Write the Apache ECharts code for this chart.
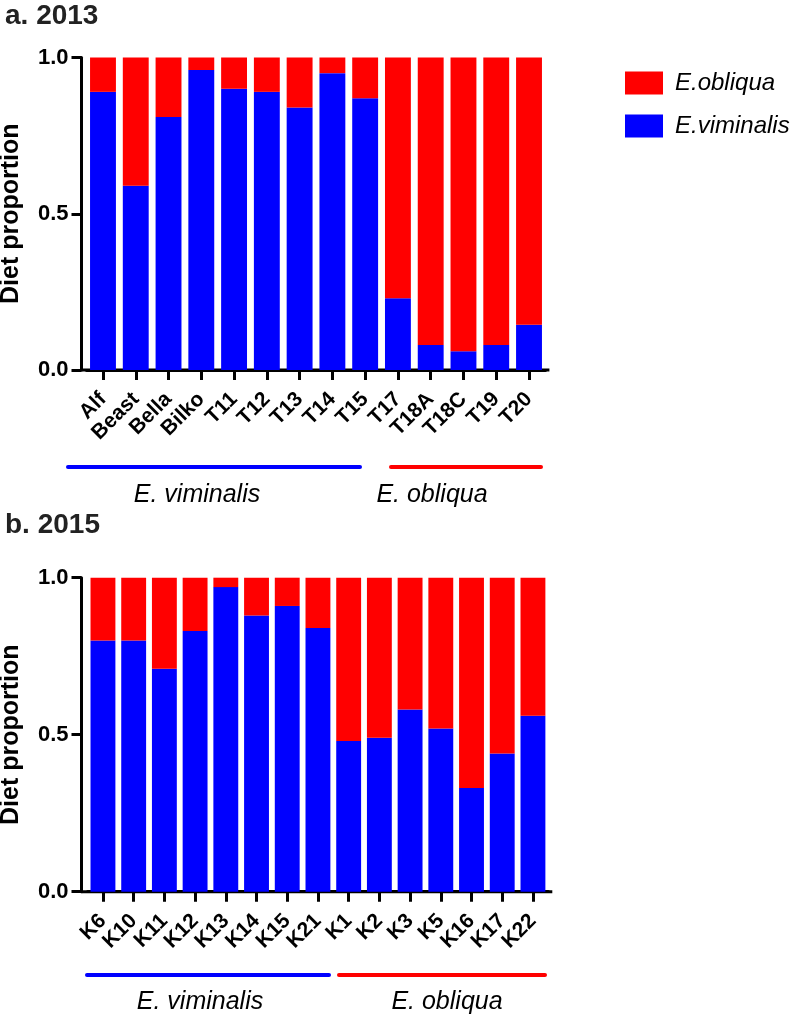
<!DOCTYPE html>
<html>
<head>
<meta charset="utf-8">
<script src="https://cdn.jsdelivr.net/npm/echarts@6/dist/echarts.min.js"></script>
<style>
html,body{margin:0;padding:0;background:#fff;}
#chart{width:800px;height:1018px;}
</style>
</head>
<body>
<div id="chart"></div>
<script>
// ---- data ----
const cats2013 = ['Alf','Beast','Bella','Bilko','T11','T12','T13','T14','T15','T17','T18A','T18C','T19','T20'];
const viminalis2013 = [0.89,0.59,0.81,0.96,0.90,0.89,0.84,0.95,0.87,0.23,0.08,0.06,0.08,0.145];
const obliqua2013   = [0.11,0.41,0.19,0.04,0.10,0.11,0.16,0.05,0.13,0.77,0.92,0.94,0.92,0.855];

const cats2015 = ['K6','K10','K11','K12','K13','K14','K15','K21','K1','K2','K3','K5','K16','K17','K22'];
const viminalis2015 = [0.80,0.80,0.71,0.83,0.97,0.88,0.91,0.84,0.48,0.49,0.58,0.52,0.33,0.44,0.56];
const obliqua2015   = [0.20,0.20,0.29,0.17,0.03,0.12,0.09,0.16,0.52,0.51,0.42,0.48,0.67,0.56,0.44];

const yTicks = [0, 0.5, 1.0];
const seriesNames = ['E.obliqua','E.viminalis'];
const groupNames = ['E. viminalis','E. obliqua'];
const panelTitles = ['a. 2013','b. 2015'];
const yName = 'Diet proportion';

// ---- layout ----
const FONT = "'Liberation Sans', Arial, Helvetica, sans-serif";
const RED = '#ff0000', BLUE = '#0000ff';
const g1 = {left: 86.6, top: 57.5, width: 458.8, height: 312.5};
const g2 = {left: 87.6, top: 577.7, width: 460.7, height: 314};
const axisX = 81.5;

function xAxisCfg(idx, cats){
  return {
    type:'category', gridIndex: idx, data: cats,
    axisLine:{show:true, lineStyle:{color:'#000', width:3}},
    axisTick:{show:true, alignWithLabel:true, length:10, lineStyle:{color:'#000', width:3}},
    axisLabel:{rotate:45, margin:26, color:'#000', fontFamily:FONT, fontWeight:'bold', fontSize:21, interval:0}
  };
}
function yAxisCfg(idx, g){
  return {
    type:'value', gridIndex: idx, min:0, max:1, interval:0.5,
    offset: g.left - axisX,
    name: yName, nameLocation:'middle', nameGap:58,
    nameTextStyle:{color:'#000', fontFamily:FONT, fontWeight:'bold', fontSize:25},
    axisLine:{show:true, lineStyle:{color:'#000', width:3}},
    axisTick:{show:true, length:10, lineStyle:{color:'#000', width:3}},
    axisLabel:{margin:13, color:'#000', fontFamily:FONT, fontWeight:'bold', fontSize:22,
      formatter: v => yTicks.includes(v) ? v.toFixed(1) : ''},
    splitLine:{show:false}
  };
}
function bars(idx, vim, obl, gap){
  return [
    {name:seriesNames[1], type:'bar', stack:'s'+idx, xAxisIndex:idx, yAxisIndex:idx, data:vim,
     itemStyle:{color:BLUE}, barCategoryGap:gap},
    {name:seriesNames[0], type:'bar', stack:'s'+idx, xAxisIndex:idx, yAxisIndex:idx, data:obl,
     itemStyle:{color:RED}, barCategoryGap:gap}
  ];
}
function groupGraphics(y, ty, b, r, bt, rt){
  const ls = (x1,x2,c)=>({type:'line', shape:{x1:x1,y1:y,x2:x2,y2:y}, style:{stroke:c, lineWidth:4, lineCap:'round'}});
  const tx = (x,t)=>({type:'text', x:x, y:ty, style:{text:t, fill:'#000', font:'italic 25px '+FONT, textAlign:'center', textVerticalAlign:'middle'}});
  return [ls(b[0],b[1],BLUE), ls(r[0],r[1],RED), tx(bt,groupNames[0]), tx(rt,groupNames[1])];
}
function axisExt(g){
  const y = g.top + g.height;
  return {type:'line', shape:{x1:axisX, y1:y, x2:g.left+g.width+4, y2:y}, style:{stroke:'#000', lineWidth:3}};
}

const option = {
  backgroundColor:'#fff',
  animation:false,
  title:[
    {text:panelTitles[0], left:0, top:-3, textStyle:{color:'#222', fontFamily:FONT, fontWeight:'bold', fontSize:28}},
    {text:panelTitles[1], left:0, top:506, textStyle:{color:'#222', fontFamily:FONT, fontWeight:'bold', fontSize:28}}
  ],
  legend:{
    data:seriesNames, orient:'vertical', left:620, top:66, icon:'rect',
    itemWidth:38, itemHeight:23, itemGap:19,
    textStyle:{color:'#000', fontFamily:FONT, fontStyle:'italic', fontSize:24, padding:[0,0,0,7]}
  },
  grid:[
    Object.assign({containLabel:false, outerBoundsMode:'none'}, g1),
    Object.assign({containLabel:false, outerBoundsMode:'none'}, g2)
  ],
  xAxis:[xAxisCfg(0, cats2013), xAxisCfg(1, cats2015)],
  yAxis:[yAxisCfg(0, g1), yAxisCfg(1, g2)],
  series:[].concat(bars(0, viminalis2013, obliqua2013, '21%'), bars(1, viminalis2015, obliqua2015, '19%')),
  graphic:[axisExt(g1), axisExt(g2)]
    .concat(groupGraphics(467, 495, [68,360], [391,541], 197, 432))
    .concat(groupGraphics(975, 1002, [87,329], [339,545], 200, 447))
};

const chart = echarts.init(document.getElementById('chart'), null, {renderer:'canvas'});
chart.setOption(option);
</script>
</body>
</html>
